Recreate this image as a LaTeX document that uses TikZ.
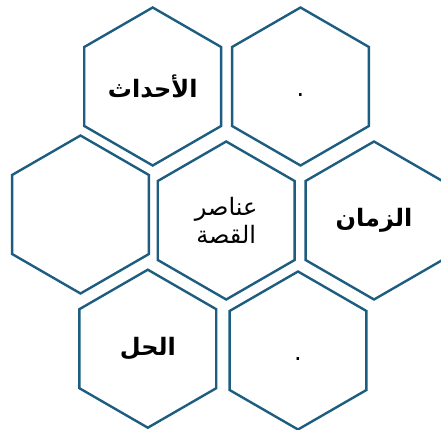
\documentclass[tikz,border=0pt]{standalone}
\usepackage{fontspec}
\newfontfamily\arabicfont[Script=Arabic]{DejaVu Sans}
\TeXXeTstate=1
\usetikzlibrary{shapes.geometric}

\begin{document}
\begin{tikzpicture}[x=1pt, y=-1pt,
    cell/.style={regular polygon, regular polygon sides=6, shape border rotate=30,
        minimum size=158pt, inner sep=0pt, draw=cellColour, line width=2.4pt,
        align=center, font=\arabicfont\fontsize{24}{28}\selectfont},
    title/.style={font=\arabicfont\bfseries\fontsize{24}{28}\selectfont}]

    \definecolor{cellColour}{HTML}{1D5D80}

    % Page frame
    \useasboundingbox (0,0) rectangle (441,430);

    % Top row
    \node[cell, title] (events) at (152.7,86.5) {\beginR الأحداث\endR};
    \node[cell] (blankTop) at (300.5,86.5) {\rule{0pt}{20pt}.};

    % Middle row
    \node[cell] (blankLeft) at (80.5,214.5) {};
    \node[cell] (elements) at (226.2,220.5) {\beginR عناصر\endR\\\beginR القصة\endR};
    \node[cell, title] (time) at (374,220.5) {\beginR الزمان\endR};

    % Bottom row
    \node[cell, title] (solution) at (147.8,348.7) {\beginR الحل\endR};
    \node[cell] (blankBottom) at (298,350.5) {\rule{0pt}{20pt}.};

\end{tikzpicture}
\end{document}
